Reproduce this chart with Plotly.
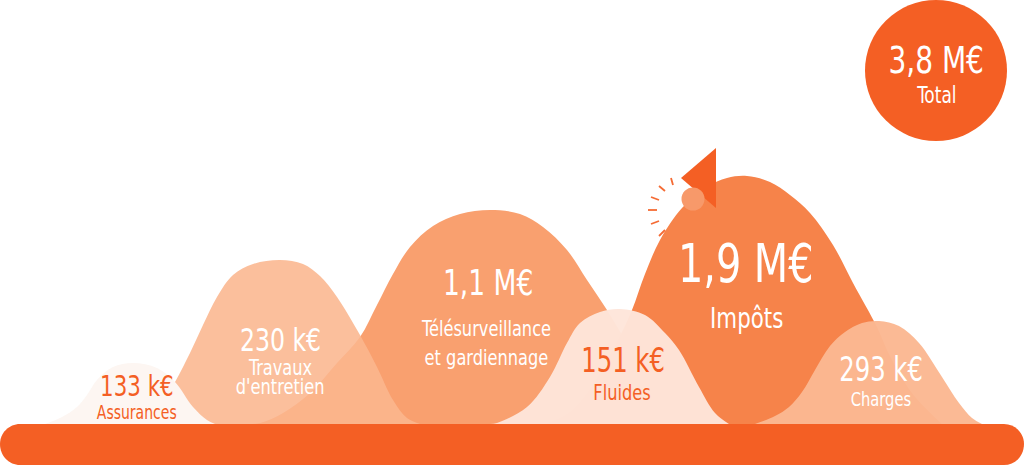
import plotly.graph_objects as go

# hill outlines: x position, height above the rail
teleo_x = [240, 260, 283, 310, 337, 360, 377, 393, 410, 433, 460, 490, 520, 543, 567, 587, 607, 625, 645, 665, 690, 710]
teleo_y = [0, 1, 11, 31, 61, 87, 119, 150, 177, 198, 210, 214, 210, 197, 174, 144, 114, 84, 50, 20, 4, 0]
travaux_x = [150, 175, 190, 203, 217, 233, 253, 280, 303, 320, 337, 360, 377, 393, 407, 420]
travaux_y = [0, 42, 71, 99, 127, 149, 160, 164, 160, 148, 127, 89, 57, 24, 6, 0]
impots_x = [545, 570, 590, 605, 620, 632, 645, 660, 682, 707, 727, 747, 770, 790, 810, 833, 853, 877, 889, 912, 942]
impots_y = [0, 12, 35, 60, 88, 114, 150, 184, 216, 237, 246, 248, 242, 229, 211, 179, 141, 97, 70, 31, 0]
fluides_x = [490, 497, 527, 550, 567, 580, 600, 620, 645, 665, 679, 699, 715, 729]
fluides_y = [0, 1, 17, 47, 81, 101, 112, 115, 109, 91, 74, 37, 11, 0]
charges_x = [755, 775, 789, 802, 815, 830, 845, 862, 879, 899, 919, 942, 959, 972, 982]
charges_y = [0, 8, 17, 32, 54, 78, 92, 101, 103, 98, 81, 47, 21, 6, 0]
assurances_x = [45, 62, 77, 87, 97, 113, 133, 157, 175, 193, 207, 215]
assurances_y = [0, 7, 17, 29, 44, 57, 61, 56, 42, 17, 4, 0]

amounts = ["133 k€", "230 k€", "1,1 M€", "151 k€", "1,9 M€", "293 k€"]
names = ["Assurances", "Travaux", "d'entretien", "Télésurveillance", "et gardiennage", "Fluides", "Impôts", "Charges"]
total_amount = "3,8 M€"
total_name = "Total"

ORANGE = "#f45f24"
FONT = "DejaVu Sans Condensed"

fig = go.Figure()

hills = [
    (teleo_x, teleo_y, "#f9a06f"),
    (travaux_x, travaux_y, "rgba(250,182,142,0.88)"),
    (impots_x, impots_y, "#f6834a"),
    (fluides_x, fluides_y, "rgba(254,229,218,0.97)"),
    (charges_x, charges_y, "rgba(251,184,146,0.97)"),
    (assurances_x, assurances_y, "#fdf6f2"),
]
for xs, ys, color in hills:
    fig.add_trace(
        go.Scatter(
            x=xs,
            y=ys,
            mode="lines",
            line={"shape": "spline", "smoothing": 1.0, "width": 0},
            fill="toself",
            fillcolor=color,
            hoverinfo="skip",
            showlegend=False,
        )
    )

shapes = [
    # rail
    {
        "type": "path",
        "path": "M 20,0 L 1004,0 C 1015,0 1024,-9 1024,-20 C 1024,-32 1015,-41 1004,-41 "
        "L 20,-41 C 9,-41 0,-32 0,-20 C 0,-9 9,0 20,0 Z",
        "fillcolor": ORANGE,
        "line": {"width": 0},
    },
    # total disc
    {"type": "circle", "x0": 865, "x1": 1007, "y0": 283, "y1": 424, "fillcolor": ORANGE, "line": {"width": 0}},
    # flag
    {"type": "path", "path": "M 716,276 L 681,246 L 716,216 Z", "fillcolor": ORANGE, "line": {"width": 0}},
    {"type": "circle", "x0": 681.5, "x1": 704.5, "y0": 213.5, "y1": 236.5, "fillcolor": "#f7996a", "line": {"width": 0}},
]
rays = [
    (671, 246, 673, 239),
    (659, 238, 665, 233),
    (651, 227, 659, 224),
    (648, 214, 657, 214),
    (651, 200, 659, 203),
    (659, 188, 665, 194),
]
for x0, y0, x1, y1 in rays:
    shapes.append({"type": "line", "x0": x0, "y0": y0, "x1": x1, "y1": y1, "line": {"color": "#f56b34", "width": 1.8}})


def label(x, y, text, size, color="white"):
    fig.add_annotation(
        x=x,
        y=424 - y,
        text=text,
        showarrow=False,
        xanchor="center",
        yanchor="middle",
        font={"family": FONT, "size": size, "color": color},
    )


label(137, 386, amounts[0], 29, ORANGE)
label(137, 412, names[0], 19, ORANGE)
label(280, 340, amounts[1], 32)
label(280, 367, names[1], 22)
label(280, 386, names[2], 22)
label(488, 282, amounts[2], 36)
label(486, 328, names[3], 22)
label(486, 357, names[4], 22)
label(623, 360, amounts[3], 33, ORANGE)
label(622, 392, names[5], 22, ORANGE)
label(745, 263, amounts[4], 54)
label(746, 318, names[6], 29)
label(881, 369, amounts[5], 33)
label(881, 399, names[7], 20)
label(936, 60, total_amount, 38)
label(936, 95, total_name, 23)

fig.update_layout(
    width=1024,
    height=465,
    autosize=False,
    margin={"l": 0, "r": 0, "t": 0, "b": 0},
    paper_bgcolor="white",
    plot_bgcolor="white",
    showlegend=False,
    shapes=shapes,
    xaxis={"range": [0, 1024], "visible": False, "fixedrange": True},
    yaxis={"range": [-41, 424], "visible": False, "fixedrange": True},
)

# the original lettering is narrower than any installed face, squeeze it a bit
squeeze = """
document.body.style.margin = '0';
document.body.style.overflow = 'hidden';
document.querySelectorAll('.annotation-text').forEach(function (t) {
    t.style.transformBox = 'fill-box';
    t.style.transformOrigin = 'center';
    t.style.transform = 'scaleX(0.82)';
});
"""

fig.write_html("out.html", config={"displayModeBar": False}, post_script=squeeze)
